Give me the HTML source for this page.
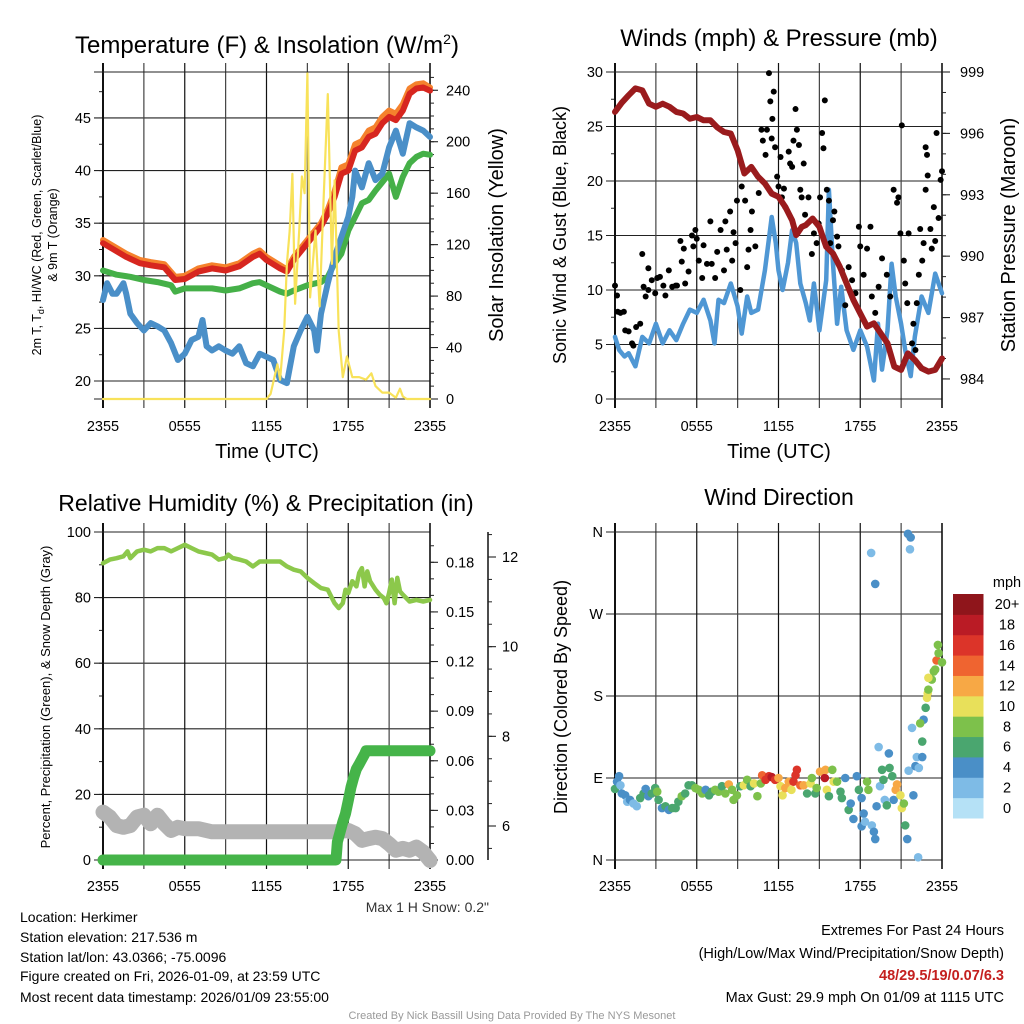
<!DOCTYPE html>
<html><head><meta charset="utf-8"><style>
html,body{margin:0;padding:0;background:#fff;}
svg{display:block;font-family:"Liberation Sans",Arial,sans-serif;}
</style></head><body>
<svg id="fig" width="1024" height="1024" viewBox="0 0 1024 1024">
<rect width="1024" height="1024" fill="#fff"/>
<g id="p1"></g>
<g id="p2"></g>
<g id="p3"></g>
<g id="p4"></g>
<text x="267" y="53" font-size="24" text-anchor="middle">Temperature (F) &amp; Insolation (W/m<tspan dy="-9" font-size="14">2</tspan><tspan dy="9">)</tspan></text>
<text x="779" y="46" font-size="24" text-anchor="middle">Winds (mph) &amp; Pressure (mb)</text>
<text x="266" y="511" font-size="23" text-anchor="middle">Relative Humidity (%) &amp; Precipitation (in)</text>
<text x="779" y="505" font-size="23" text-anchor="middle">Wind Direction</text>
<text transform="translate(41,235) rotate(-90)" font-size="12.5" text-anchor="middle">2m T, T<tspan font-size="9" dy="3">d</tspan><tspan dy="-3">, HI/WC (Red, Green, Scarlet/Blue)</tspan></text>
<text transform="translate(57,235) rotate(-90)" font-size="12.5" text-anchor="middle">&amp; 9m T (Orange)</text>
<text transform="translate(503,235) rotate(-90)" font-size="20" text-anchor="middle">Solar Insolation (Yellow)</text>
<text transform="translate(566,235) rotate(-90)" font-size="18" text-anchor="middle">Sonic Wind &amp; Gust (Blue, Black)</text>
<text transform="translate(1015,235) rotate(-90)" font-size="20" text-anchor="middle">Station Pressure (Maroon)</text>
<text transform="translate(50,697) rotate(-90)" font-size="13" text-anchor="middle">Percent, Precipitation (Green), &amp; Snow Depth (Gray)</text>
<text transform="translate(567,697) rotate(-90)" font-size="18" text-anchor="middle">Direction (Colored By Speed)</text>
<text x="267" y="458" font-size="20" text-anchor="middle">Time (UTC)</text>
<text x="779" y="458" font-size="20" text-anchor="middle">Time (UTC)</text>
<text x="489" y="912" font-size="14" text-anchor="end" fill="#333">Max 1 H Snow: 0.2"</text>
<g font-size="14">
<text x="20" y="922">Location: Herkimer</text>
<text x="20" y="942">Station elevation: 217.536 m</text>
<text x="20" y="962">Station lat/lon: 43.0366; -75.0096</text>
<text x="20" y="981">Figure created on Fri, 2026-01-09, at 23:59 UTC</text>
<text x="20" y="1002">Most recent data timestamp: 2026/01/09 23:55:00</text>
</g>
<g font-size="14.5" text-anchor="end">
<text x="1004" y="935">Extremes For Past 24 Hours</text>
<text x="1004" y="958">(High/Low/Max Wind/Precipitation/Snow Depth)</text>
<text x="1004" y="980" fill="#c4201f" font-weight="bold">48/29.5/19/0.07/6.3</text>
<text x="1004" y="1002">Max Gust: 29.9 mph On 01/09 at 1115 UTC</text>
</g>
<text x="512" y="1019" font-size="11" fill="#999" text-anchor="middle">Created By Nick Bassill Using Data Provided By The NYS Mesonet</text>
</svg>
<script>
// ---------- data ----------
const timeTicks = ["2355","0555","1155","1755","2355"];
const tempTicks = [20,25,30,35,40,45];
const solarTicks = [0,40,80,120,160,200,240];
const redT = [0,1.7,2.7,3.5,4.5,5.3,6,7,8,9,10,11,11.5,12,13,13.5,14,15,16,16.5,17,17.5,18,18.5,19,19.5,20,20.5,21,21.5,22,22.5,23,23.5,24];
const redV = [33.1,31.8,31.2,31.0,30.8,29.6,29.7,30.4,30.7,30.5,30.9,31.8,32.1,31.5,30.7,30.4,31.5,33.1,34.7,35.9,37.5,39.7,40.0,41.9,42.2,43.2,43.5,44.5,45.1,44.8,45.7,47.3,47.8,47.9,47.6];
const orangeV = [33.4,32.1,31.5,31.3,31.1,29.9,30.0,30.7,31.0,30.8,31.2,32.1,32.4,31.8,31.0,30.6,31.8,33.4,35.0,36.3,38.0,40.3,40.6,42.5,42.8,43.8,44.1,45.1,45.7,45.4,46.3,47.8,48.2,48.3,47.9];
const greenT = [0,1,2,3,4,5,5.3,6,7,8,9,10,11,11.5,12,13,13.5,14,15,16,16.5,17,17.5,18,18.5,19,19.5,20,20.5,21,21.5,22,22.5,23,23.5,24];
const greenV = [30.5,30.1,29.9,29.6,29.4,29.1,28.5,28.8,28.8,28.8,28.6,28.8,29.3,29.4,29.1,28.5,28.3,28.6,29.1,29.4,29.9,31.2,32.1,34.3,35.6,36.9,37.2,38.1,38.9,39.7,37.5,39.4,40.7,41.3,41.6,41.5];
const blueT = [0,0.3,0.7,1,1.5,1.7,2,2.5,3,3.5,4,4.5,5,5.5,6,6.5,7,7.3,7.6,8,8.5,9,9.5,10,10.5,11,11.5,12,12.5,13,13.5,14,14.5,15,15.5,15.7,16,16.5,17,17.5,18,18.3,18.5,19,19.5,20,20.5,21,21.5,22,22.5,23,23.5,24];
const blueV = [27.7,29.3,28.3,28.3,29.3,28.3,26.4,25.5,24.8,25.5,25.2,24.8,23.6,22.0,22.6,23.9,24.2,25.8,23.3,22.9,23.3,22.9,22.6,23.3,21.7,21.4,22.6,22.3,22.0,20.1,19.8,23.3,24.8,26.1,24.8,22.9,26.4,29.3,31.8,33.7,35.6,37.5,40.0,38.4,40.7,39.1,39.7,42.2,43.8,41.6,44.5,44.1,43.8,43.2];
const solarT = [0,12,12.3,12.8,13,13.3,13.5,13.7,13.9,14.1,14.4,14.6,14.8,15,15.2,15.4,15.6,15.9,16.2,16.5,16.8,17,17.3,17.6,17.9,18.3,18.8,19.3,19.7,20,20.5,21,21.5,21.8,22,22.3,24];
const solarV = [0,0,4,27,15,53,105,131,175,74,131,173,160,253,79,105,131,72,157,237,105,170,53,17,33,17,17,15,20,10,5,5,1,8,2,0,0];

const spdTicks = [0,5,10,15,20,25,30];
const presTicks = [984,987,990,993,996,999];
const presT = [0,0.5,1,1.5,2,2.5,3,3.5,4,4.5,5,5.5,6,6.5,7,7.5,8,8.5,9,9.5,10,10.5,11,11.5,12,12.5,13,13.3,13.7,14,14.5,15,15.5,16,16.5,17,17.5,18,18.5,19,19.5,20,20.5,21,21.5,22,22.5,23,23.5,24];
const presV = [997.05,997.5,997.86,998.2,998.1,997.45,997.3,997.45,997.3,997.05,996.97,996.72,996.8,996.64,996.64,996.3,996.07,995.99,995.18,994.04,994.36,993.88,993.55,993.06,992.9,992.41,991.76,991.03,991.43,991.52,991.84,991.43,990.46,990.13,989.48,988.67,987.86,987.2,986.56,986.72,986.23,985.74,984.6,984.44,985.25,984.93,984.52,984.36,984.44,985.0];
const windT = [0,0.3,0.7,1,1.5,2,2.5,3,3.5,4,4.5,5,5.5,6,6.5,7,7.3,7.6,8,8.5,9,9.3,9.7,10,10.5,11,11.5,11.8,12,12.3,12.7,13,13.3,13.6,14,14.3,14.6,15,15.5,15.7,16,16.3,16.6,17,17.5,18,18.5,19,19.3,19.6,20,20.3,20.6,21,21.3,21.7,22,22.5,23,23.5,24];
const windV = [5.7,4.5,3.9,4.2,3.0,5.7,5.1,6.9,5.1,6.3,5.4,6.9,8.2,7.9,9.1,7.2,5.1,9.1,8.8,10.6,8.5,6.0,9.4,7.9,8.2,11.8,16.7,14.3,11.8,10.0,12.5,15.5,14.3,10.6,8.8,7.2,10.6,6.3,10.9,19.2,12.4,6.9,10.3,6.3,4.5,6.3,4.8,1.7,6.9,2.7,6.3,12.4,9.4,6.9,4.5,2.1,5.7,9.4,7.9,11.5,9.7];
const gustT = [0,0.15,0.2,0.4,0.65,0.75,1.0,1.25,1.35,1.55,1.85,2.0,2.1,2.25,2.45,2.45,2.7,2.95,3.1,3.3,3.55,3.7,3.95,4.2,4.45,4.55,4.8,4.9,5.05,5.15,5.4,5.65,5.75,5.9,6.0,6.15,6.4,6.5,6.75,7.0,7.1,7.35,7.5,7.75,8.0,8.1,8.2,8.45,8.6,8.7,8.85,8.95,9.2,9.3,9.55,9.7,9.8,9.95,10.05,10.3,10.55,10.75,10.85,11.05,11.15,11.3,11.4,11.5,11.55,11.65,11.75,11.9,12.0,12.15,12.25,12.4,12.5,12.75,12.85,13.0,13.1,13.25,13.35,13.5,13.6,13.7,13.85,13.95,14.2,14.45,14.6,14.8,14.95,15.05,15.2,15.3,15.4,15.55,15.7,15.8,16.0,16.1,16.3,16.4,16.65,16.9,17.15,17.4,17.65,17.9,18.0,18.25,18.5,18.75,18.85,19.1,19.35,19.6,19.95,20.2,20.45,20.7,20.8,20.95,21.05,21.2,21.3,21.45,21.55,21.8,21.9,22.05,22.15,22.3,22.4,22.55,22.65,22.8,22.9,22.95,22.8,23.15,23.25,23.4,23.5,23.6,23.75,23.9,24.0];
const gustV = [10.4,9.5,8.0,7.9,8.0,6.3,6.2,5.1,4.9,6.6,6.9,13.3,10.3,9.4,12.0,10.0,10.9,9.7,11.1,11.2,10.4,9.5,11.8,10.3,10.4,10.4,14.5,12.6,13.8,10.6,11.7,15.0,14.0,15.5,14.7,12.7,11.1,14.1,12.4,16.3,12.4,11.1,13.5,15.5,11.8,16.3,13.7,17.2,12.7,15.3,14.3,18.2,10.0,19.5,18.2,12.1,13.7,15.5,17.2,14.0,18.9,24.7,23.7,22.4,24.7,29.9,27.3,23.9,25.7,28.2,23.1,20.4,19.5,22.2,18.5,19.3,17.6,22.7,21.6,21.3,23.7,26.6,24.7,23.3,19.2,18.5,21.6,16.9,18.5,13.3,15.2,14.3,16.1,18.5,24.4,23.0,27.4,19.2,18.2,14.3,16.4,17.2,14.9,14.0,11.8,8.6,12.1,10.9,9.7,15.8,14.0,11.4,13.8,15.8,9.4,7.9,10.3,12.9,11.4,9.4,19.2,18.0,18.5,15.2,25.1,12.7,10.6,8.8,15.2,5.1,6.9,4.5,8.8,11.4,15.6,12.7,14.3,23.1,22.4,20.5,19.2,15.6,13.8,17.6,14.5,24.4,16.6,20.1,20.9];

const rhTicks = [0,20,40,60,80,100];
const prTicks = ["0.00","0.03","0.06","0.09","0.12","0.15","0.18"];
const snowTicks = [6,8,10,12];
const rhT = [0,0.5,1,1.5,1.8,2,2.5,3,3.5,4,4.5,5,5.5,6,6.5,7,7.5,8,8.5,9,9.2,9.5,10,10.5,11,11.5,12,12.5,13,13.5,14,14.5,15,15.5,16,16.5,17,17.3,17.6,17.8,18,18.3,18.6,18.8,19,19.2,19.4,19.6,20,20.3,20.6,20.8,21,21.2,21.4,21.6,21.8,22,22.5,23,23.5,24];
const rhV = [90.5,91.6,92,92.6,94.1,92,94.1,94.6,94.1,95.1,95.1,94.1,95.1,96.1,95.1,94.1,93.6,93.1,91.6,92.1,93.1,92.1,91.6,91,89.5,91,91,91,91,89.5,88.5,88,86,84.4,82.9,82.4,78.3,76.8,78.3,82.4,81.4,85,83.4,87.5,89,83.4,88,85,82.4,80.9,79.9,78.3,81.4,85.5,78.3,86,81.9,80.9,78.8,79.3,78.8,79.3];
const precipT = [0,17.1,17.2,17.4,17.6,17.8,18.0,18.2,18.4,18.6,18.8,19.0,19.2,19.3,24];
const precipV = [0,0,0.011,0.017,0.023,0.028,0.036,0.044,0.050,0.055,0.058,0.061,0.064,0.066,0.066];
const snowT = [0,0.5,1,1.5,2,2.5,3,3.5,4,4.5,5,5.5,6,7,8,10,12,14,16,17,18,18.5,19,19.5,20,20.5,21,21.5,22,22.5,23,23.5,24];
const snowV = [6.31,6.2,6.01,5.97,6.01,6.2,6.24,6.05,6.24,6.05,5.9,5.97,5.94,5.94,5.87,5.87,5.87,5.87,5.87,5.87,5.9,5.83,5.68,5.72,5.75,5.72,5.6,5.46,5.5,5.46,5.53,5.42,5.23];

const dirTicks = ["N","E","S","W","N"];
const cbLabels = ["0","2","4","6","8","10","12","14","16","18","20+"];
const cbColors = ["#b5e1f6","#7ebbe6","#4a8fc7","#4aa66f","#7dc14b","#e8e05a","#f7a845","#ef6430","#dc3429","#ba1b25","#8f151b"];
const dirT = [0,0.15,0.3,0.4,0.5,0.75,0.9,1.1,1.35,1.6,1.85,2.1,2.25,2.45,2.7,2.95,3.1,3.2,3.45,3.7,3.95,4.2,4.45,4.65,4.9,5.15,5.4,5.65,5.9,6.15,6.4,6.65,6.9,7.1,7.35,7.6,7.85,8.1,8.35,8.6,8.7,8.95,9.2,9.45,9.7,9.95,10.2,10.45,10.7,10.8,11.05,11.3,11.5,11.75,12.0,12.15,12.3,12.5,12.75,12.95,13.1,13.25,13.35,13.6,13.85,14.1,14.35,14.45,14.7,14.8,15.05,15.4,15.45,15.55,15.7,15.95,16.05,16.3,16.55,16.65,16.9,17.15,17.3,17.5,17.75,17.9,18.1,18.1,18.25,18.35,18.5,18.6,18.8,18.85,19.0,19.1,19.1,19.2,19.35,19.45,19.6,19.7,19.8,19.95,20.1,20.15,20.35,20.45,20.6,20.7,20.95,21.05,21.2,21.3,21.45,21.5,21.7,21.65,21.55,21.8,21.9,22.05,22.15,22.3,22.25,22.55,22.55,22.65,22.4,22.8,22.9,22.95,23.0,23.25,23.4,23.0,23.5,23.6,23.75,23.7,24.0];
const dirV = [78,86,92,82,73,71,64,66,62,59,68,73,78,70,73,79,75,66,57,59,55,57,57,64,70,73,82,82,79,77,73,77,71,75,77,75,81,73,83,77,66,71,81,82,88,81,84,70,84,93,88,92,91,88,90,81,71,79,86,77,86,93,99,82,82,73,84,90,73,79,97,90,99,77,70,99,86,86,75,68,90,55,62,45,92,77,68,37,51,42,86,77,337,38,31,303,23,59,124,81,99,88,66,60,117,101,92,66,77,83,71,57,62,38,23,358,354,341,98,145,71,103,113,101,3,113,130,154,150,167,178,183,187,198,207,200,209,219,227,236,217];
const dirSpd = [6,4,4,2,4,4,2,4,2,2,6,6,4,4,6,6,8,6,4,6,4,6,6,6,8,6,6,6,8,8,8,4,6,6,8,8,6,8,12,8,8,8,6,10,8,6,10,8,8,14,16,16,18,16,12,10,10,12,12,10,16,16,16,14,12,6,10,8,6,8,12,18,12,10,6,8,10,8,6,6,4,6,4,4,4,6,4,4,4,2,8,8,2,2,4,4,4,4,2,2,6,6,2,6,4,6,6,4,12,12,10,10,8,6,4,4,4,2,2,2,4,4,2,2,2,4,6,4,8,6,10,10,8,8,8,10,8,14,8,8,8];

// ---------- helpers ----------
const NS = "http://www.w3.org/2000/svg";
function mk(parent, tag, attrs){const e=document.createElementNS(NS,tag);for(const k in attrs)e.setAttribute(k,attrs[k]);parent.appendChild(e);return e;}
function lin(d0,d1,r0,r1){return v=>r0+(v-d0)*(r1-r0)/(d1-d0);}

function frame(g, X0, X1, Y0, Y1, xLabY, ys, leftTicks, leftMinor, leftLbl){
  leftTicks.forEach((v,i)=>{
    const y=ys(v);
    const l=mk(g,'line',{x1:X0-9,x2:X1,y1:y,y2:y,stroke:'#222','stroke-width':1.1});
    
    
    const t=mk(g,'text',{x:X0-12,y:y+5,'font-size':14.5,'text-anchor':'end'});
    
    
    t.textContent=leftLbl?leftLbl[i]:v;
  });
  leftMinor.forEach(v=>{
    const y=ys(v);
    const l=mk(g,'line',{x1:X0-4,x2:X0,y1:y,y2:y,stroke:'#222','stroke-width':1});
    
    
  });
  const xs=lin(0,24,X0,X1);
  for(let h=0;h<=24;h+=3){
    const x=xs(h);
    const l=mk(g,'line',{x1:x,x2:x,y1:Y0-9,y2:Y1+9,stroke:(h%6===0)?'#111':'#444','stroke-width':(h===0)?2:1.2});
    
    
  }
  const top=mk(g,'line',{x1:X0-9,x2:X1,y1:Y0,y2:Y0,stroke:'#222','stroke-width':1.1});
  
  
  const bot=mk(g,'line',{x1:X0-9,x2:X1,y1:Y1,y2:Y1,stroke:'#222','stroke-width':1.1});
  
  
  timeTicks.forEach((s,i)=>{
    const t=mk(g,'text',{x:xs(i*6),y:xLabY,'font-size':14.5,'text-anchor':'middle'});
    
    
    t.textContent=s;
  });
  return xs;
}
function rightAxis(g, X, ys, majors, labels, minors, lblX){
  majors.forEach((v,i)=>{
    const y=ys(v);
    const l=mk(g,'line',{x1:X,x2:X+8,y1:y,y2:y,stroke:'#222','stroke-width':1.1});
    
    
    const t=mk(g,'text',{x:lblX,y:y+5,'font-size':14.5});
    
    
    t.textContent=labels[i];
  });
  minors.forEach(v=>{
    const y=ys(v);
    const l=mk(g,'line',{x1:X,x2:X+4,y1:y,y2:y,stroke:'#222','stroke-width':1});
    
    
  });
}
function series(g, ts, vs, xs, ys, color, w, name){
  const d=ts.map((t,i)=>(i?'L':'M')+xs(t).toFixed(1)+','+ys(vs[i]).toFixed(1)).join('');
  const p=mk(g,'path',{d:d,fill:'none',stroke:color,'stroke-width':w,'stroke-linejoin':'round','stroke-linecap':'round'});
  
  
  return p;
}
function range(a,b,s){const r=[];for(let v=a;v<=b+1e-9;v+=s)r.push(+v.toFixed(4));return r;}

// ---------- panel 1 ----------
{
  const g=document.getElementById('p1');
  const X0=103,X1=430,Y0=72,Y1=399;
  const yT=lin(18.29,49.37,Y1,Y0);
  const yS=lin(0,254.2,Y1,Y0);
  const xs=frame(g,X0,X1,Y0,Y1,431,yT,tempTicks,range(20,47.5,2.5),null);
  const rs=mk(g,'line',{x1:X1,x2:X1,y1:Y0-9,y2:Y1+9,stroke:'#111','stroke-width':1.5});
  
  
  rightAxis(g,X1,yS,solarTicks,solarTicks,range(0,250,10),446);
  series(g,redT,orangeV,xs,yT,'#f5822d',6,'orange-9m-temp-line');
  series(g,redT,redV,xs,yT,'#d7261f',6,'red-2m-temp-line');
  series(g,greenT,greenV,xs,yT,'#45b048',6,'green-dewpoint-line');
  series(g,blueT,blueV,xs,yT,'#4a8fc8',6,'blue-windchill-line');
  series(g,solarT,solarV,xs,yS,'#f8e25a',2.2,'yellow-solar-line');
}
// ---------- panel 2 ----------
{
  const g=document.getElementById('p2');
  const X0=615,X1=942,Y0=72,Y1=399;
  const yW=lin(0,30,Y1,Y0);
  const yP=lin(983.02,999,Y1,Y0);
  const xs=frame(g,X0,X1,Y0,Y1,431,yW,spdTicks,range(0,30,2.5),null);
  const rs=mk(g,'line',{x1:X1,x2:X1,y1:Y0-9,y2:Y1+9,stroke:'#111','stroke-width':1.5});
  
  
  rightAxis(g,X1,yP,presTicks,presTicks,range(984,999,1),960);
  series(g,windT,windV,xs,yW,'#4f97d4',4.5,'sonic-wind-line');
  gustT.forEach((t,i)=>{
    const c=mk(g,'circle',{cx:xs(t),cy:yW(gustV[i]),r:3,fill:'#000'});
    
    
  });
  series(g,presT,presV,xs,yP,'#9a1b1d',6,'station-pressure-line');
}
// ---------- panel 3 ----------
{
  const g=document.getElementById('p3');
  const X0=103,X1=430,Y0=532,Y1=860;
  const yR=lin(0,100,Y1,Y0);
  const yPr=lin(0,0.18,Y1,562.3);
  const ySn=lin(6,12,826,557);
  const xs=frame(g,X0,X1,Y0,Y1,891,yR,rhTicks,range(0,100,10),null);
  const rs=mk(g,'line',{x1:X1,x2:X1,y1:Y0-9,y2:Y1+9,stroke:'#111','stroke-width':1.5});
  
  
  rightAxis(g,X1,yPr,prTicks.map(Number),prTicks,range(0,0.19,0.01),446);
  const ss=mk(g,'line',{x1:488,x2:488,y1:Y0,y2:Y1,stroke:'#111','stroke-width':1.5});
  
  
  rightAxis(g,488,ySn,snowTicks,snowTicks,range(5.5,12.5,0.5),502);
  series(g,rhT,rhV,xs,yR,'#8cc84b',4.5,'relative-humidity-line');
  series(g,snowT,snowV,xs,ySn,'#b3b3b3',15,'snow-depth-line');
  series(g,precipT,precipV,xs,yPr,'#45b449',11,'precipitation-line');
}
// ---------- panel 4 ----------
{
  const g=document.getElementById('p4');
  const X0=615,X1=942,Y0=532,Y1=860;
  const yD=lin(0,360,Y1,Y0);
  const xs=frame(g,X0,X1,Y0,Y1,891,yD,[0,90,180,270,360],[],dirTicks);
  const rs=mk(g,'line',{x1:X1,x2:X1,y1:Y0-9,y2:Y1+9,stroke:'#111','stroke-width':1.5});
  
  
  dirT.forEach((t,i)=>{
    const bin=Math.min(10,Math.floor(dirSpd[i]/2));
    const c=mk(g,'circle',{cx:xs(t),cy:yD(dirV[i]),r:4.3,fill:cbColors[bin]});
    
    
  });
  const cb=mk(g,'g',{});
  
  
  const top=594,bot=818,h=(bot-top)/cbLabels.length;
  cbLabels.forEach((lab,i)=>{
    const y=bot-(i+1)*h;
    const r=mk(cb,'rect',{x:953,y:y,width:30.5,height:h+0.5,fill:cbColors[i]});
    
    
    const t=mk(cb,'text',{x:1007,y:y+h/2+5,'font-size':14.5,'text-anchor':'middle'});
    
    
    t.textContent=lab;
  });
  const m=mk(cb,'text',{x:1007,y:587,'font-size':14.5,'text-anchor':'middle'});
  
  
  m.textContent='mph';
}
</script>
</body></html>
